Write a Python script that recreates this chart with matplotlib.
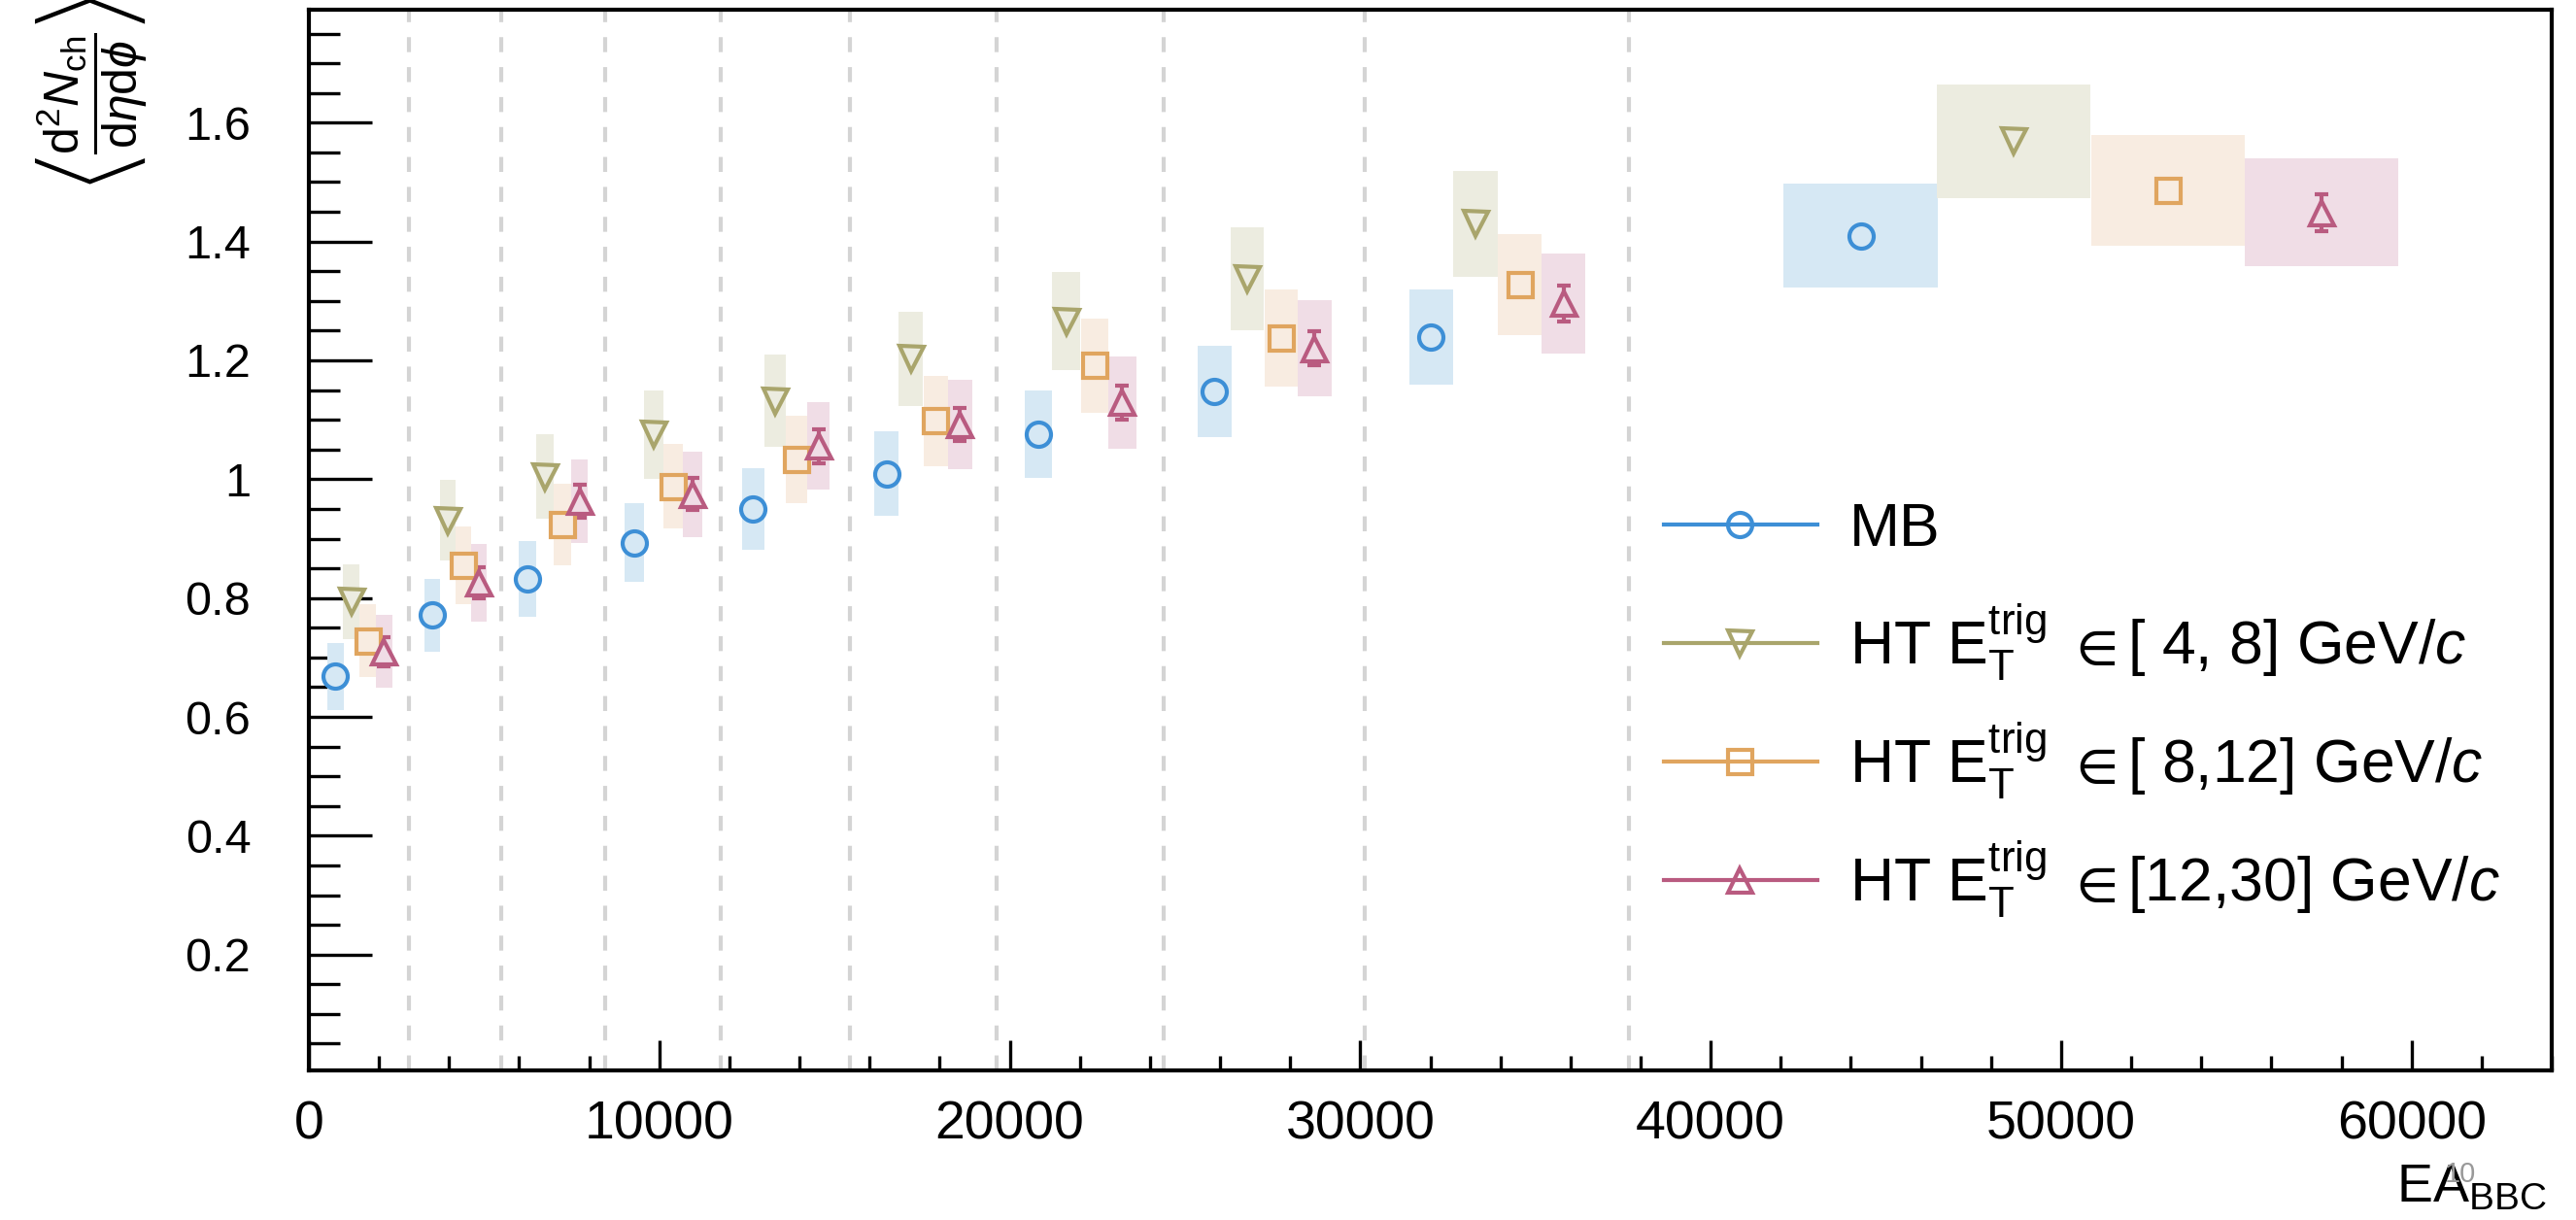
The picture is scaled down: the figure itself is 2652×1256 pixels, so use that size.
import matplotlib
matplotlib.use('Agg')
import matplotlib.pyplot as plt
from matplotlib.ticker import MultipleLocator, FuncFormatter

# EA_BBC bin edges (dashed lines) and width of the systematic boxes per bin
bin_edges = [2844, 5493, 8462, 11766, 15452, 19620, 24390, 30130, 37680]
box_width = [470, 440, 495, 550, 615, 695, 795, 955, 1260, 4390]

mb_x = [754, 3512, 6247, 9280, 12680, 16490, 20820, 25840, 32020, 44280]
mb_y = [0.668, 0.771, 0.832, 0.893, 0.950, 1.009, 1.076, 1.148, 1.239, 1.410]
mb_sys = [0.057, 0.061, 0.0635, 0.066, 0.0685, 0.071, 0.0735, 0.0765, 0.0795, 0.0875]

ht1_x = [1211, 3958, 6730, 9836, 13300, 17180, 21610, 26780, 33290, 48650]
ht1_y = [0.794, 0.931, 1.004, 1.075, 1.132, 1.203, 1.266, 1.337, 1.430, 1.569]
ht1_sys = [0.063, 0.0685, 0.071, 0.074, 0.077, 0.0795, 0.082, 0.087, 0.089, 0.0955]

ht2_x = [1682, 4404, 7226, 10390, 13920, 17890, 22420, 27740, 34550, 53050]
ht2_y = [0.728, 0.855, 0.924, 0.988, 1.033, 1.098, 1.191, 1.237, 1.328, 1.486]
ht2_sys = [0.061, 0.066, 0.0685, 0.071, 0.073, 0.076, 0.079, 0.0815, 0.085, 0.0925]

ht3_x = [2140, 4850, 7720, 10940, 14540, 18580, 23210, 28700, 35800, 57430]
ht3_y = [0.710, 0.826, 0.963, 0.975, 1.056, 1.092, 1.129, 1.220, 1.296, 1.449]
ht3_sys = [0.0615, 0.0655, 0.0705, 0.072, 0.074, 0.0745, 0.0775, 0.081, 0.084, 0.091]
ht3_stat = [0.0245, 0.026, 0.0275, 0.0275, 0.0285, 0.0285, 0.029, 0.0285, 0.030, 0.031]

labels = ['MB',
          r'HT $\mathrm{E}_{\mathrm{T}}^{\mathrm{trig}}$ $\in$[ 4, 8] GeV/$c$',
          r'HT $\mathrm{E}_{\mathrm{T}}^{\mathrm{trig}}$ $\in$[ 8,12] GeV/$c$',
          r'HT $\mathrm{E}_{\mathrm{T}}^{\mathrm{trig}}$ $\in$[12,30] GeV/$c$']

plt.rcParams['font.family'] = ['Liberation Sans', 'DejaVu Sans']
plt.rcParams['mathtext.fontset'] = 'custom'
plt.rcParams['mathtext.rm'] = 'Liberation Sans'
plt.rcParams['mathtext.it'] = 'Liberation Sans:italic'
plt.rcParams['mathtext.bf'] = 'Liberation Sans:bold'
plt.rcParams['mathtext.sf'] = 'Liberation Sans'
plt.rcParams['mathtext.fallback'] = 'stixsans'

colors = ['#3d8fd6', '#a9a56c', '#e0a55f', '#b95b80']
box_colors = ['#d6e8f4', '#ecece0', '#f8ece1', '#f0dde6']
markers = ['o', 'v', 's', '^']

fig = plt.figure(figsize=(26.52, 12.56), dpi=100)
ax = fig.add_axes([0.1199, 0.1226, 0.8707, 0.8694])

for e in bin_edges:
    ax.axvline(e, color='#d4d4d4', lw=3, linestyle=(0, (3.7, 3.7)), zorder=1)

series = [(mb_x, mb_y, mb_sys), (ht1_x, ht1_y, ht1_sys),
          (ht2_x, ht2_y, ht2_sys), (ht3_x, ht3_y, ht3_sys)]

for i, (x, y, s) in enumerate(series):
    bottoms = [yy - ss for yy, ss in zip(y, s)]
    heights = [2 * ss for ss in s]
    ax.bar(x, heights, bottom=bottoms, width=box_width, color=box_colors[i],
           linewidth=0, zorder=2)

ax.errorbar(ht3_x, ht3_y, yerr=ht3_stat, fmt='none', ecolor=colors[3],
            elinewidth=3, capsize=5, capthick=3, zorder=3)

for i, (x, y, s) in enumerate(series):
    ax.plot(x, y, linestyle='none', marker=markers[i], ms=18, mew=3,
            mec=colors[i], mfc=box_colors[i], zorder=4)

ax.set_xlim(0, 64000)
ax.set_ylim(0.005, 1.79)

ax.xaxis.set_major_locator(MultipleLocator(10000))
ax.xaxis.set_minor_locator(MultipleLocator(2000))
ax.yaxis.set_major_locator(MultipleLocator(0.2))
ax.yaxis.set_minor_locator(MultipleLocator(0.05))
ax.xaxis.set_major_formatter(FuncFormatter(lambda v, p: '%d' % v))
ax.yaxis.set_major_formatter(FuncFormatter(lambda v, p: '' if abs(v) < 1e-9 else '%g' % v))

ax.tick_params(which='both', direction='in', top=False, right=False, color='black')
ax.tick_params(axis='y', which='major', length=47, width=2.4, pad=43, labelsize=35)
ax.tick_params(axis='y', which='minor', length=23, width=2.4)
ax.tick_params(axis='x', which='major', length=22, width=2.4, pad=22, labelsize=40)
ax.tick_params(axis='x', which='minor', length=11, width=2.4)
for sp in ax.spines.values():
    sp.set_linewidth(3)

# legend drawn by hand so the rows are evenly spaced
leg_y = [0.5147, 0.4029, 0.2912, 0.1795]
for i in range(4):
    ax.plot([0.604, 0.6726], [leg_y[i], leg_y[i]], color=colors[i], lw=3,
            transform=ax.transAxes, clip_on=False, zorder=5)
    ax.plot([0.638], [leg_y[i]], marker=markers[i], ms=18, mew=3, mec=colors[i],
            mfc='none', transform=ax.transAxes, clip_on=False, zorder=6)
    ax.text(0.687, leg_y[i] - 0.0206, labels[i], transform=ax.transAxes,
            va='baseline', ha='left', fontsize=45)

fig.text(0.9887, 0.0151, r'$\mathrm{EA}_{\mathrm{BBC}}$', ha='right', va='baseline', fontsize=40)
fig.text(0.9491, 0.031, '10', color='#999999', ha='left', va='baseline', fontsize=21)

fig.text(0.0351, 0.9244,
         r'$\left\langle\dfrac{\mathrm{d}^{2}N_{\mathrm{ch}}}{\mathrm{d}\eta\mathrm{d}\phi}\right\rangle$',
         rotation=90, ha='center', va='center', fontsize=36)

fig.savefig('out.png', dpi=100)
